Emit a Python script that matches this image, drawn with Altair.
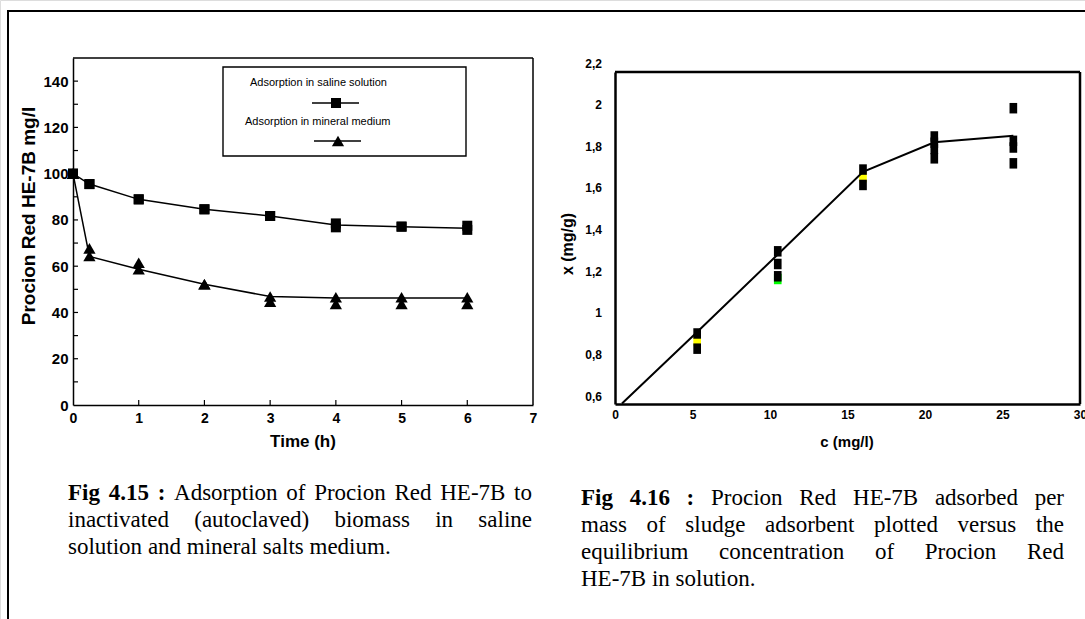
import altair as alt
import pandas as pd

# ---------------------------------------------------------------
# Fig 4.15: residual Procion Red HE-7B (mg/l) against time (h)
# ---------------------------------------------------------------
time_h = [0, 0.25, 1, 2, 3, 4, 5, 6]
saline_rep1 = [100, 95.5, 88.9, 84.6, 81.7, 78.5, 77.1, 77.5]
saline_rep2 = [100, 95.5, 88.9, 84.6, 81.7, 76.8, 77.1, 75.7]
saline_curve = [100, 95.5, 88.9, 84.6, 81.7, 77.8, 77.1, 76.4]
mineral_rep1 = [100, 67.7, 61.5, 52.2, 46.9, 46.6, 46.6, 46.6]
mineral_rep2 = [100, 64.4, 58.7, 52.2, 44.7, 43.7, 43.7, 43.7]
mineral_curve = [100, 64.2, 58.7, 52.2, 46.9, 46.3, 46.2, 46.2]

left_y_ticks = [0, 20, 40, 60, 80, 100, 120, 140]
left_y_minor = [10, 20, 30, 40, 50, 60, 70, 80, 90, 100, 110, 120, 130, 140]
left_x_ticks = [0, 1, 2, 3, 4, 5, 6, 7]
legend_labels = ["Adsorption in saline solution", "Adsorption in mineral medium"]

# ---------------------------------------------------------------
# Fig 4.16: dye adsorbed per mass of sludge vs equilibrium conc.
# ---------------------------------------------------------------
iso_c = [5.3, 5.3, 10.5, 10.5, 10.5, 16.0, 16.0,
         20.6, 20.6, 20.6, 20.6, 25.7, 25.7, 25.7, 25.7]
iso_x = [0.903, 0.83, 1.298, 1.237, 1.178, 1.691, 1.617,
         1.85, 1.82, 1.79, 1.745, 1.986, 1.829, 1.797, 1.721]
iso_extra_c = [5.3, 10.5, 16.0]
iso_extra_x = [0.867, 1.165, 1.654]
iso_extra_colour = ["#ffff00", "#00ff00", "#ffff00"]
fit_c = [0.45, 5.3, 10.5, 16.0, 20.6, 25.7]
fit_x = [0.566, 0.91, 1.283, 1.68, 1.822, 1.853]

right_y_ticks = [0.6, 0.8, 1.0, 1.2, 1.4, 1.6, 1.8, 2.0, 2.2]
right_y_labels = ["0,6", "0,8", "1", "1,2", "1,4", "1,6", "1,8", "2", "2,2"]
right_x_ticks = [0, 5, 10, 15, 20, 25, 30]

# ---------------------------------------------------------------
# Captions
# ---------------------------------------------------------------
caption_left_tag = "Fig 4.15 :"
caption_left_lines = [
    "Adsorption of Procion Red HE-7B to",
    "inactivated (autoclaved) biomass in saline",
    "solution and mineral salts medium.",
]
caption_right_tag = "Fig 4.16 :"
caption_right_lines = [
    "Procion Red HE-7B adsorbed per",
    "mass of sludge adsorbent plotted versus the",
    "equilibrium concentration of Procion Red",
    "HE-7B in solution.",
]

SANS = "Liberation Sans, Arial, sans-serif"
NARROW = "Liberation Sans Narrow, Arial Narrow, Liberation Sans, sans-serif"
SERIF = "Liberation Serif, Times New Roman, serif"
W, H = 1085, 619
CAP_SIZE = 23

# Times advance widths (1/1000 em) used for justified caption lines
ROMAN = {" ": 250, "(": 333, ")": 333, "-": 333, ".": 250, ":": 278,
         "A": 722, "B": 667, "E": 611, "F": 556, "H": 722, "P": 556, "R": 667,
         "a": 444, "b": 500, "c": 444, "d": 500, "e": 444, "f": 333, "g": 500,
         "h": 500, "i": 278, "l": 278, "m": 778, "n": 500, "o": 500, "p": 500,
         "q": 500, "r": 333, "s": 389, "t": 278, "u": 500, "v": 500, "y": 500}
BOLD = {" ": 250, ".": 250, ":": 333, "F": 611, "i": 278, "g": 500}


def text_width(s, bold):
    table = BOLD if bold else ROMAN
    return sum(table.get(ch, 500) for ch in s) * CAP_SIZE / 1000


def caption_rows(tag, lines, x0, x1, base, step):
    rows = []
    for i, line in enumerate(lines):
        words = [(w, False) for w in line.split(" ")]
        if i == 0:
            words = [(w, True) for w in tag.split(" ")] + words
        y = base + i * step
        if i == len(lines) - 1:
            # last line of a paragraph is not stretched
            x = x0
            for w, b in words:
                rows.append({"word": w, "bold": b, "px": x, "py": y})
                x += text_width(w, b) + text_width(" ", False)
            continue
        widths = [text_width(w, b) for w, b in words]
        gap = (x1 - x0 - sum(widths)) / (len(words) - 1)
        x = x0
        for (w, b), wd in zip(words, widths):
            rows.append({"word": w, "bold": b, "px": x, "py": y})
            x += wd + gap
    return rows


cap_df = pd.DataFrame(
    caption_rows(caption_left_tag, caption_left_lines, 68, 532, 500, 27)
    + caption_rows(caption_right_tag, caption_right_lines, 581, 1064, 505, 27)
)

one = pd.DataFrame({"k": [0]})

# ---------------------------------------------------------------
# Left panel
# ---------------------------------------------------------------
lx_scale = alt.Scale(domain=[0, 7], range=[73, 533], nice=False, zero=False)
ly_scale = alt.Scale(domain=[0, 150], range=[405, 58], nice=False, zero=False)
lx_axis = alt.Axis(orient="bottom", offset=-214, values=left_x_ticks, format="d",
                   ticks=False, tickSize=0, labelPadding=6, labelFont=SANS,
                   labelFontSize=14, labelFontWeight="bold", labelColor="black",
                   labelFlush=False, labelOverlap=False, domainColor="black",
                   domainWidth=1.5, grid=False, title=None)
ly_axis = alt.Axis(orient="left", offset=-73, values=left_y_ticks, format="d",
                   ticks=False, tickSize=0, labelPadding=5, labelFont=SANS,
                   labelFontSize=15, labelFontWeight="bold", labelColor="black",
                   labelFlush=False, labelOverlap=False, domainColor="black",
                   domainWidth=1.5, grid=False, title=None)


def LX(field=None, datum=None):
    if datum is not None:
        return alt.X(datum=datum, type="quantitative", scale=lx_scale, axis=lx_axis)
    return alt.X(field, type="quantitative", scale=lx_scale, axis=lx_axis)


def LY(field=None, datum=None):
    if datum is not None:
        return alt.Y(datum=datum, type="quantitative", scale=ly_scale, axis=ly_axis)
    return alt.Y(field, type="quantitative", scale=ly_scale, axis=ly_axis)


left_top = alt.Chart(one).mark_rule(color="black", strokeWidth=1.5).encode(
    x=LX(datum=0), x2=alt.X2(datum=7), y=LY(datum=150))
left_right = alt.Chart(one).mark_rule(color="black", strokeWidth=1.5).encode(
    x=LX(datum=7), y=LY(datum=0), y2=alt.Y2(datum=150))
left_yticks = alt.Chart(pd.DataFrame({"v": left_y_minor})).mark_rule(
    color="black", strokeWidth=1.2, x2Offset=5).encode(
    x=LX(datum=0), x2=alt.X2(datum=0), y=LY("v"))
left_xticks = alt.Chart(pd.DataFrame({"t": left_x_ticks[1:-1]})).mark_rule(
    color="black", strokeWidth=1.2, y2Offset=-5).encode(
    x=LX("t"), y=LY(datum=0), y2=alt.Y2(datum=0))

curves = pd.DataFrame({
    "t": time_h * 2,
    "v": saline_curve + mineral_curve,
    "series": ["saline"] * len(time_h) + ["mineral"] * len(time_h),
})
left_lines = alt.Chart(curves).mark_line(color="black", strokeWidth=1.5).encode(
    x=LX("t"), y=LY("v"), detail="series:N")
saline_pts = alt.Chart(pd.DataFrame({"t": time_h * 2, "v": saline_rep1 + saline_rep2})).mark_point(
    shape="square", filled=True, size=100, color="black", opacity=1).encode(
    x=LX("t"), y=LY("v"))
mineral_pts = alt.Chart(pd.DataFrame({"t": time_h * 2, "v": mineral_rep1 + mineral_rep2})).mark_point(
    shape="triangle-up", filled=True, size=150, color="black", opacity=1).encode(
    x=LX("t"), y=LY("v"))

left_panel = alt.layer(left_top, left_right, left_yticks, left_xticks,
                       left_lines, saline_pts, mineral_pts)

# ---------------------------------------------------------------
# Right panel
# ---------------------------------------------------------------
rx_scale = alt.Scale(domain=[0, 30], range=[615, 1080], nice=False, zero=False)
ry_scale = alt.Scale(domain=[0.564, 2.16], range=[404, 72], nice=False, zero=False)
rx_axis = alt.Axis(orient="bottom", offset=-215, values=right_x_ticks, format="d",
                   ticks=False, tickSize=0, labelPadding=5, labelFont=SANS,
                   labelFontSize=12, labelFontWeight="bold", labelColor="black",
                   labelFlush=False, labelOverlap=False, domainColor="black",
                   domainWidth=2.5, grid=False, title=None)
ry_axis = alt.Axis(orient="left", offset=-615, labels=False, ticks=False, tickSize=0,
                   domainColor="black", domainWidth=2.5, grid=False, title=None)


def RX(field=None, datum=None):
    if datum is not None:
        return alt.X(datum=datum, type="quantitative", scale=rx_scale, axis=rx_axis)
    return alt.X(field, type="quantitative", scale=rx_scale, axis=rx_axis)


def RY(field=None, datum=None):
    if datum is not None:
        return alt.Y(datum=datum, type="quantitative", scale=ry_scale, axis=ry_axis)
    return alt.Y(field, type="quantitative", scale=ry_scale, axis=ry_axis)


RECT = "M-0.73,-1L0.73,-1L0.73,1L-0.73,1Z"

right_top = alt.Chart(one).mark_rule(color="black", strokeWidth=2.5).encode(
    x=RX(datum=0), x2=alt.X2(datum=30), y=RY(datum=2.16))
right_right = alt.Chart(one).mark_rule(color="black", strokeWidth=2.5).encode(
    x=RX(datum=30), y=RY(datum=0.564), y2=alt.Y2(datum=2.16))
right_labels = alt.Chart(pd.DataFrame({"v": right_y_ticks, "lab": right_y_labels})).mark_text(
    align="right", baseline="middle", font=SANS, fontSize=12, fontWeight="bold",
    color="black").encode(x=alt.value(602), y=RY("v"), text="lab:N")
extra_pts = alt.Chart(pd.DataFrame({"c": iso_extra_c, "x": iso_extra_x,
                                    "col": iso_extra_colour})).mark_point(
    shape=RECT, filled=True, size=110, opacity=1).encode(
    x=RX("c"), y=RY("x"), color=alt.Color("col:N", scale=None))
iso_pts = alt.Chart(pd.DataFrame({"c": iso_c, "x": iso_x})).mark_point(
    shape=RECT, filled=True, size=110, color="black", opacity=1).encode(
    x=RX("c"), y=RY("x"))
fit_line = alt.Chart(pd.DataFrame({"c": fit_c, "x": fit_x})).mark_line(
    color="black", strokeWidth=2).encode(x=RX("c"), y=RY("x"))

right_panel = alt.layer(right_top, right_right, right_labels, extra_pts,
                        iso_pts, fit_line)

# ---------------------------------------------------------------
# Page frame, titles, legend and captions (pixel placed)
# ---------------------------------------------------------------
frame_top = alt.Chart(one).mark_rule(color="black", strokeWidth=2).encode(
    x=alt.value(7), x2=alt.value(W), y=alt.value(11))
frame_left = alt.Chart(one).mark_rule(color="black", strokeWidth=2).encode(
    x=alt.value(8), y=alt.value(10), y2=alt.value(H))


def label(text, x, y, size, angle=0, font=SANS, weight="bold", align="center"):
    return alt.Chart(one).mark_text(
        text=text, font=font, fontSize=size, fontWeight=weight, angle=angle,
        align=align, baseline="middle", color="black").encode(
        x=alt.value(x), y=alt.value(y))


titles = [
    label("Procion Red HE-7B mg/l", 29, 216, 19, angle=270),
    label("Time (h)", 303, 442, 17),
    label("x (mg/g)", 568, 244, 16, angle=270),
    label("c (mg/l)", 847, 442, 15),
]

legend_box = alt.Chart(one).mark_rect(fill="white", stroke="black", strokeWidth=1.4).encode(
    x=alt.value(223), x2=alt.value(466), y=alt.value(67), y2=alt.value(156))
legend_items = [
    label(legend_labels[0], 250, 83, 11, font=NARROW, weight="normal", align="left"),
    label(legend_labels[1], 245, 122, 11, font=NARROW, weight="normal", align="left"),
    alt.Chart(one).mark_rule(color="black", strokeWidth=1.5).encode(
        x=alt.value(312), x2=alt.value(359), y=alt.value(103)),
    alt.Chart(one).mark_point(shape="square", filled=True, size=100, color="black",
                              opacity=1).encode(x=alt.value(336), y=alt.value(103)),
    alt.Chart(one).mark_rule(color="black", strokeWidth=1.5).encode(
        x=alt.value(314), x2=alt.value(361), y=alt.value(141)),
    alt.Chart(one).mark_point(shape="triangle-up", filled=True, size=150, color="black",
                              opacity=1).encode(x=alt.value(338), y=alt.value(141)),
]

cap_regular = alt.Chart(cap_df).transform_filter("!datum.bold").mark_text(
    align="left", baseline="alphabetic", font=SERIF, fontSize=CAP_SIZE,
    color="black").encode(
    x=alt.X("px:Q", scale=None, axis=None), y=alt.Y("py:Q", scale=None, axis=None),
    text="word:N")
cap_bold = alt.Chart(cap_df).transform_filter("datum.bold").mark_text(
    align="left", baseline="alphabetic", font=SERIF, fontSize=CAP_SIZE,
    fontWeight="bold", color="black").encode(
    x=alt.X("px:Q", scale=None, axis=None), y=alt.Y("py:Q", scale=None, axis=None),
    text="word:N")

chart = alt.layer(
    frame_top, frame_left, left_panel, right_panel, legend_box, *legend_items,
    *titles, cap_regular, cap_bold,
).resolve_scale(x="independent", y="independent").properties(
    width=W, height=H, padding=0,
    autosize=alt.AutoSizeParams(type="none"),
).configure_view(strokeWidth=0).configure(background="white")

chart.save("out.html", embed_options={"renderer": "svg", "actions": False})
